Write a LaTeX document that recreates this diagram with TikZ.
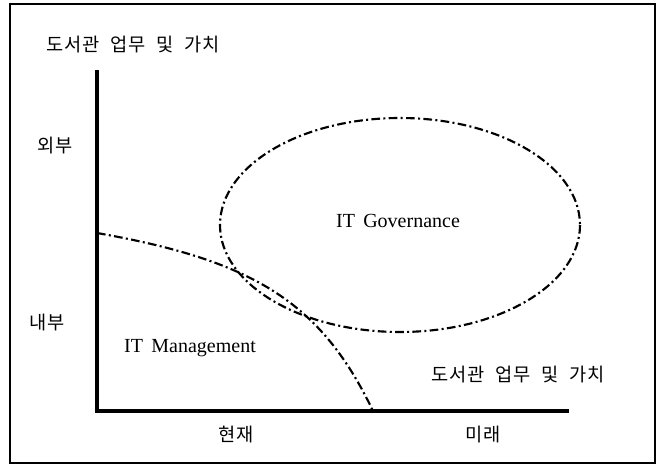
\documentclass[tikz,border=0pt]{standalone}
\usepackage{fontspec}
\setmainfont{Liberation Serif}
\newfontfamily\kr[WordSpace=2.2,LetterSpace=4]{Noto Sans CJK KR}
\begin{document}
\begin{tikzpicture}[x=0.75pt,y=-0.75pt,
   krtext/.style={font=\kr\fontsize{14}{17}\selectfont},
   entext/.style={font=\fontsize{15}{18}\selectfont},
   dashdot/.style={line width=1.6pt,dash pattern=on 6.5pt off 2.5pt on 1.5pt off 2.5pt}]
   \useasboundingbox (0,0) rectangle (661,468);
   \draw[line width=1.1pt] (10,4) rectangle (655,463);

   \coordinate (ytop) at (97,70);
   \coordinate (origin) at (97,411);
   \coordinate (xend) at (569,411);
   \draw[line width=3pt] (ytop) -- (origin) -- (xend);

   \node[krtext] (title) at (133,45) {도서관 업무 및 가치};
   \node[krtext] (outer) at (55,146) {외부};
   \node[krtext] (inner) at (47,323) {내부};
   \node[krtext] (now) at (236,435) {현재};
   \node[krtext] (future) at (483,435) {미래};
   \node[krtext] (value) at (518,375) {도서관 업무 및 가치};

   \node[entext] (gov) at (398,221) {IT\, Governance};
   \node[entext] (mgmt) at (190,348) {IT\, Management};

   \draw[dashdot] (400,225) ellipse (180 and 107);
   \coordinate (mstart) at (97,233);
   \coordinate (mend) at (373,411);
   \draw[dashdot] (mstart) .. controls (250,260) and (320,300) .. (mend);
\end{tikzpicture}
\end{document}
